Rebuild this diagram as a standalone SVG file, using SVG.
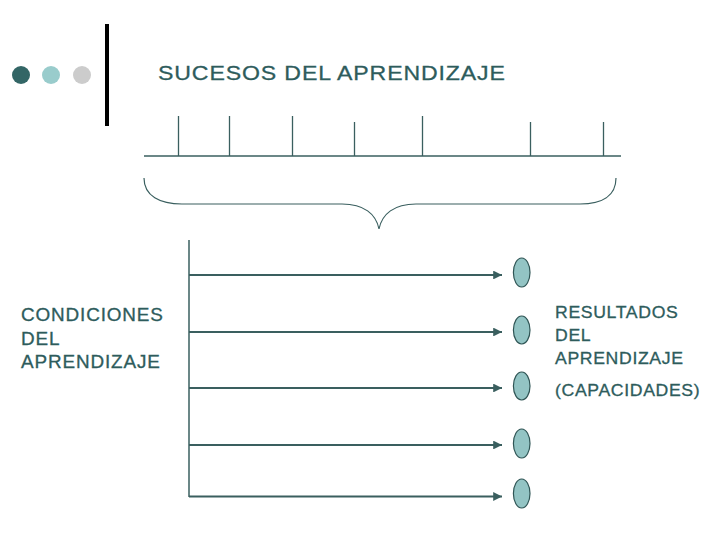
<svg xmlns="http://www.w3.org/2000/svg" width="720" height="540" viewBox="0 0 720 540">
<style>
  .t { font-family: "Liberation Sans", Arial, sans-serif; fill: #2E5C5C; stroke: #2E5C5C; stroke-width: 0.3; }
  .ln { stroke: #3A5F5F; fill: none; }
  .arr { stroke: #3A5F5F; stroke-width: 2.2; fill: none; marker-end: url(#ah); }
  .res { fill: #93C4C4; stroke: #2F5555; stroke-width: 1.2; }
</style>
<defs>
  <marker id="ah" viewBox="0 0 10 10" refX="10" refY="5" markerWidth="4.5" markerHeight="4" markerUnits="strokeWidth" orient="auto">
    <path d="M0,0 L10,5 L0,10 Z" fill="#3A5F5F"/>
  </marker>
</defs>
<rect width="720" height="540" fill="#ffffff"/>
<g id="decor">
  <circle cx="21" cy="75" r="9" fill="#336666"/>
  <circle cx="51" cy="75" r="9" fill="#99CCCC"/>
  <circle cx="82" cy="75" r="9" fill="#CCCCCC"/>
  <rect x="105" y="24" width="4" height="102" fill="#000000"/>
</g>
<g id="title">
  <text class="t" transform="translate(158,80) scale(1.1,1)" x="0" y="0" font-size="21" letter-spacing="0.8">SUCESOS DEL APRENDIZAJE</text>
</g>
<g id="timeline">
  <line class="ln" x1="144" y1="156" x2="621" y2="156" stroke-width="1.3"/>
  <line class="ln" x1="178.5" y1="116" x2="178.5" y2="156" stroke-width="1.3"/>
  <line class="ln" x1="229.5" y1="116" x2="229.5" y2="156" stroke-width="1.3"/>
  <line class="ln" x1="292.5" y1="116" x2="292.5" y2="156" stroke-width="1.3"/>
  <line class="ln" x1="354.5" y1="122" x2="354.5" y2="156" stroke-width="1.3"/>
  <line class="ln" x1="422.5" y1="116" x2="422.5" y2="156" stroke-width="1.3"/>
  <line class="ln" x1="530.5" y1="122" x2="530.5" y2="156" stroke-width="1.3"/>
  <line class="ln" x1="603.5" y1="122" x2="603.5" y2="156" stroke-width="1.3"/>
</g>
<g id="brace">
  <path class="ln" stroke-width="1.2" d="M144,178 C144,196 160,204 182,204 L342,204 C364,204 376,214 379,229 C382,214 394,204 416,204 L580,204 C602,204 616,196 616,178"/>
</g>
<g id="condiciones">
  <text class="t" transform="translate(21,0) scale(1.08,1)" font-size="17.5" letter-spacing="0.8">
    <tspan x="0" y="321">CONDICIONES</tspan>
    <tspan x="0" y="345">DEL</tspan>
    <tspan x="0" y="368">APRENDIZAJE</tspan>
  </text>
</g>
<g id="resultados">
  <text class="t" transform="translate(555,0) scale(1.07,1)" font-size="16.5" letter-spacing="0.6">
    <tspan x="0" y="318">RESULTADOS</tspan>
    <tspan x="0" y="341">DEL</tspan>
    <tspan x="0" y="364">APRENDIZAJE</tspan>
    <tspan x="0" y="396">(CAPACIDADES)</tspan>
  </text>
</g>
<g id="connectors">
  <line class="ln" x1="189" y1="240" x2="189" y2="497" stroke-width="1.5"/>
  <line class="arr" x1="189" y1="275" x2="502" y2="275"/>
  <line class="arr" x1="189" y1="332" x2="502" y2="332"/>
  <line class="arr" x1="189" y1="388" x2="502" y2="388"/>
  <line class="arr" x1="189" y1="445" x2="502" y2="445"/>
  <line class="arr" x1="189" y1="496.5" x2="502" y2="496.5"/>
</g>
<g id="r1"><ellipse class="res" cx="521.7" cy="272.5" rx="8.3" ry="14.5"/></g>
<g id="r2"><ellipse class="res" cx="521.7" cy="330" rx="8.3" ry="14"/></g>
<g id="r3"><ellipse class="res" cx="521.7" cy="386" rx="8.3" ry="14"/></g>
<g id="r4"><ellipse class="res" cx="521.7" cy="443.5" rx="8.3" ry="14.5"/></g>
<g id="r5"><ellipse class="res" cx="521.7" cy="493.5" rx="8.3" ry="14.5"/></g>
</svg>
